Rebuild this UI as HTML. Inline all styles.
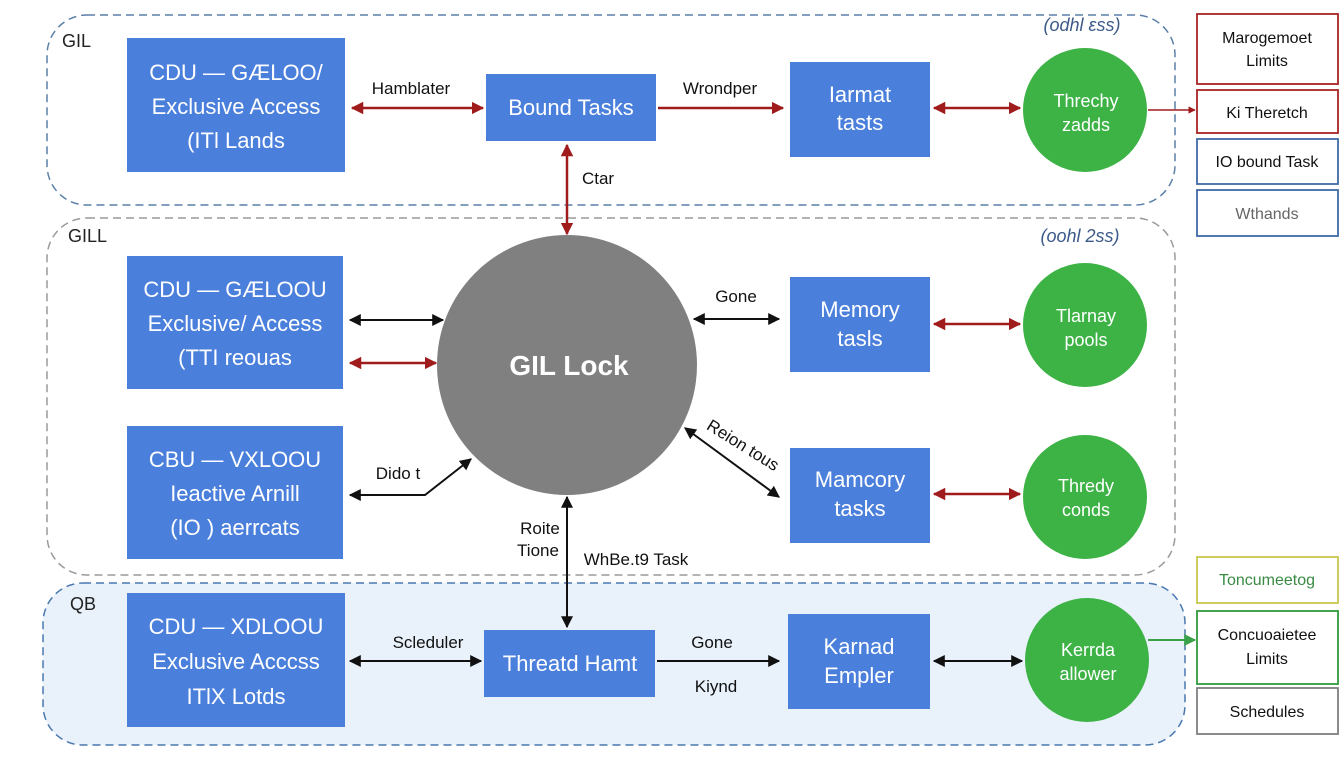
<!DOCTYPE html>
<html><head><meta charset="utf-8"><style>
html,body{margin:0;padding:0;background:#fff}
svg{display:block;font-family:"Liberation Sans",sans-serif}
</style></head><body>
<svg width="1344" height="768" viewBox="0 0 1344 768" xmlns="http://www.w3.org/2000/svg">
<defs>
<marker id="r" viewBox="0 0 10 10" refX="9" refY="5" markerWidth="5" markerHeight="5" orient="auto-start-reverse"><path d="M0,0L10,5L0,10z" fill="#a01c1c"/></marker>
<marker id="k" viewBox="0 0 10 10" refX="9" refY="5" markerWidth="6" markerHeight="6" orient="auto-start-reverse"><path d="M0,0L10,5L0,10z" fill="#111"/></marker>
<marker id="g" viewBox="0 0 10 10" refX="9" refY="5" markerWidth="6" markerHeight="6" orient="auto-start-reverse"><path d="M0,0L10,5L0,10z" fill="#3aa04a"/></marker>
</defs>
<rect x="47" y="15" width="1128" height="190" rx="40" fill="none" stroke="#5b7fa8" stroke-width="1.5" stroke-dasharray="8,5"/>
<rect x="47" y="218" width="1128" height="357" rx="40" fill="none" stroke="#9a9a9a" stroke-width="1.5" stroke-dasharray="8,5"/>
<rect x="43" y="583" width="1142" height="162" rx="40" fill="#e9f1fb" stroke="#4a78b0" stroke-width="1.5" stroke-dasharray="8,5"/>
<g font-size="18" fill="#222">
<text x="62" y="47">GIL</text><text x="68" y="242">GILL</text><text x="70" y="610">QB</text>
</g>
<g font-size="18" fill="#3c5a8a" font-style="italic" text-anchor="middle">
<text x="1082" y="31">(odhl ɛss)</text><text x="1080" y="242">(oohl 2ss)</text>
</g>
<g fill="#4a7fdc">
<rect x="127" y="38" width="218" height="134"/><rect x="486" y="74" width="170" height="67"/><rect x="790" y="62" width="140" height="95"/>
<rect x="127" y="256" width="216" height="133"/><rect x="790" y="277" width="140" height="95"/>
<rect x="127" y="426" width="216" height="133"/><rect x="790" y="448" width="140" height="95"/>
<rect x="127" y="593" width="218" height="134"/><rect x="484" y="630" width="171" height="67"/><rect x="788" y="614" width="142" height="95"/>
</g>
<g fill="#3db346"><circle cx="1085" cy="110" r="62"/><circle cx="1085" cy="325" r="62"/><circle cx="1085" cy="497" r="62"/><circle cx="1087" cy="660" r="62"/></g>
<circle cx="567" cy="365" r="130" fill="#808080"/>
<text x="569" y="375" font-size="28" font-weight="bold" fill="#fff" text-anchor="middle">GIL Lock</text>
<g font-size="22" fill="#fff" text-anchor="middle">
<text x="236" y="80">CDU — GÆLOO/</text><text x="236" y="114">Exclusive Access</text><text x="236" y="148">(ITl Lands</text>
<text x="571" y="115">Bound Tasks</text>
<text x="860" y="102">Iarmat</text><text x="860" y="130">tasts</text>
<text x="235" y="297">CDU — GÆLOOU</text><text x="235" y="331">Exclusive/ Access</text><text x="235" y="365">(TTI reouas</text>
<text x="860" y="317">Memory</text><text x="860" y="346">tasls</text>
<text x="235" y="467">CBU — VXLOOU</text><text x="235" y="501">Ieactive Arnill</text><text x="235" y="535">(IO ) aerrcats</text>
<text x="860" y="487">Mamcory</text><text x="860" y="516">tasks</text>
<text x="236" y="634">CDU — XDLOOU</text><text x="236" y="669">Exclusive Acccss</text><text x="236" y="704">ITlX Lotds</text>
<text x="570" y="671">Threatd Hamt</text>
<text x="859" y="654">Karnad</text><text x="859" y="683">Empler</text>
</g>
<g font-size="18" fill="#fff" text-anchor="middle">
<text x="1086" y="107">Threchy</text><text x="1086" y="131">zadds</text>
<text x="1086" y="322">Tlarnay</text><text x="1086" y="346">pools</text>
<text x="1086" y="492">Thredy</text><text x="1086" y="516">conds</text>
<text x="1088" y="656">Kerrda</text><text x="1088" y="680">allower</text>
</g>
<g stroke="#a01c1c" stroke-width="2.5" fill="none">
<line x1="352" y1="108" x2="483" y2="108" marker-start="url(#r)" marker-end="url(#r)"/>
<line x1="658" y1="108" x2="783" y2="108" marker-end="url(#r)"/>
<line x1="934" y1="108" x2="1020" y2="108" marker-start="url(#r)" marker-end="url(#r)"/>
<line x1="1148" y1="110" x2="1195" y2="110" stroke-width="1.5" marker-end="url(#r)"/>
<line x1="567" y1="145" x2="567" y2="234" marker-start="url(#r)" marker-end="url(#r)"/>
<line x1="350" y1="363" x2="436" y2="363" marker-start="url(#r)" marker-end="url(#r)"/>
<line x1="934" y1="324" x2="1020" y2="324" marker-start="url(#r)" marker-end="url(#r)"/>
<line x1="934" y1="494" x2="1020" y2="494" marker-start="url(#r)" marker-end="url(#r)"/>
</g>
<g stroke="#111" stroke-width="2" fill="none">
<line x1="350" y1="320" x2="443" y2="320" marker-start="url(#k)" marker-end="url(#k)"/>
<line x1="694" y1="319" x2="779" y2="319" marker-start="url(#k)" marker-end="url(#k)"/>
<polyline points="350,495 425,495 471,459" marker-start="url(#k)" marker-end="url(#k)"/>
<line x1="685" y1="428" x2="779" y2="497" marker-start="url(#k)" marker-end="url(#k)"/>
<line x1="567" y1="497" x2="567" y2="627" marker-start="url(#k)" marker-end="url(#k)"/>
<line x1="350" y1="661" x2="481" y2="661" marker-start="url(#k)" marker-end="url(#k)"/>
<line x1="657" y1="661" x2="779" y2="661" marker-end="url(#k)"/>
<line x1="934" y1="661" x2="1022" y2="661" marker-start="url(#k)" marker-end="url(#k)"/>
</g>
<line x1="1148" y1="640" x2="1195" y2="640" stroke="#3aa04a" stroke-width="2" marker-end="url(#g)"/>
<g font-size="17" fill="#111" text-anchor="middle">
<text x="411" y="94">Hamblater</text><text x="720" y="94">Wrondper</text><text x="598" y="184">Ctar</text>
<text x="736" y="302">Gone</text><text x="398" y="479">Dido t</text>
<text x="740" y="450" transform="rotate(32 740 450)">Reion tous</text>
<text x="540" y="534">Roite</text><text x="538" y="556">Tione</text><text x="636" y="565">WhBe.t9 Task</text>
<text x="428" y="648">Scleduler</text><text x="712" y="648">Gone</text><text x="716" y="692">Kiynd</text>
</g>
<g fill="#fff" stroke-width="1.8">
<rect x="1197" y="14" width="141" height="70" stroke="#a82525"/>
<rect x="1197" y="90" width="141" height="43" stroke="#a82525"/>
<rect x="1197" y="139" width="141" height="45" stroke="#3f6aa8"/>
<rect x="1197" y="190" width="141" height="46" stroke="#3f6aa8"/>
<rect x="1197" y="557" width="141" height="46" stroke="#c8c64a"/>
<rect x="1197" y="611" width="141" height="73" stroke="#2f9a3c"/>
<rect x="1197" y="688" width="141" height="46" stroke="#808080"/>
</g>
<g font-size="16" fill="#111" text-anchor="middle">
<text x="1267" y="43">Marogemoet</text><text x="1267" y="66">Limits</text>
<text x="1267" y="118">Ki Theretch</text><text x="1267" y="167">IO bound Task</text>
<text x="1267" y="219" fill="#666">Wthands</text>
<text x="1267" y="585" fill="#3a8a44">Toncumeetog</text>
<text x="1267" y="640">Concuoaietee</text><text x="1267" y="664">Limits</text>
<text x="1267" y="717">Schedules</text>
</g>
</svg>
</body></html>
